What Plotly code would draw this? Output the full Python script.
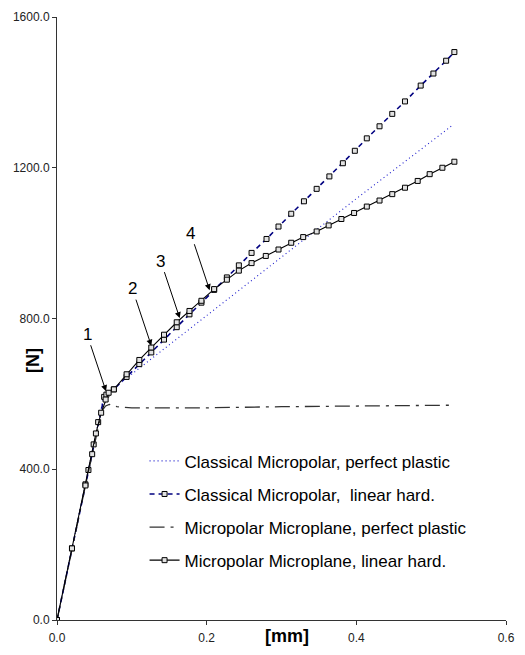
import plotly.graph_objects as go

# ---------------- data ----------------
# Classical Micropolar, perfect plastic
cp_x = [0.0, 0.020, 0.040, 0.063, 0.070, 0.200, 0.300, 0.400, 0.528]
cp_y = [0.0, 190, 380, 598, 606, 808, 963, 1118, 1312]

# Classical Micropolar, linear hard.
cl_x = [0.0, 0.020, 0.038, 0.042, 0.049, 0.055, 0.063, 0.066, 0.076, 0.093, 0.110,
        0.126, 0.143, 0.160, 0.177, 0.193, 0.210, 0.227, 0.243, 0.260, 0.280, 0.296,
        0.313, 0.330, 0.347, 0.364, 0.382, 0.398, 0.414, 0.431, 0.448, 0.465, 0.486,
        0.503, 0.520, 0.531]
cl_y = [0.0, 190, 360, 398, 466, 525, 592, 598, 612, 645, 679,
        710, 744, 777, 811, 842, 876, 909, 941, 974, 1011, 1044,
        1078, 1111, 1144, 1177, 1212, 1245, 1278, 1310, 1343, 1376, 1418,
        1450, 1484, 1507]

# Micropolar Microplane, perfect plastic
mp_x = [0.0, 0.020, 0.040, 0.060, 0.065, 0.070, 0.080, 0.100, 0.200, 0.300, 0.400, 0.531]
mp_y = [0.0, 190, 375, 555, 568, 572, 566, 563, 563, 566, 568, 570]

# Micropolar Microplane, linear hard.
ml_x = [0.0, 0.020, 0.038, 0.047, 0.052, 0.059, 0.065, 0.069, 0.076, 0.093, 0.110,
        0.126, 0.143, 0.160, 0.177, 0.193, 0.210, 0.227, 0.243, 0.260, 0.279, 0.296,
        0.313, 0.329, 0.347, 0.363, 0.380, 0.397, 0.414, 0.431, 0.448, 0.465, 0.482,
        0.498, 0.515, 0.531]
ml_y = [0.0, 190, 357, 440, 495, 550, 585, 603, 612, 652, 690,
        723, 757, 790, 820, 847, 878, 903, 927, 947, 966, 983,
        1001, 1016, 1031, 1047, 1064, 1080, 1097, 1113, 1130, 1147, 1165,
        1183, 1200, 1216]

series_names = [
    "Classical Micropolar, perfect plastic",
    "Classical Micropolar,\u00a0 linear hard.",
    "Micropolar Microplane, perfect plastic",
    "Micropolar Microplane, linear hard.",
]

# numbered arrows: labels and the curve points they point to
arrow_labels = ["1", "2", "3", "4"]
arrow_x = [0.0655, 0.126, 0.164, 0.204]
arrow_y = [607, 728, 801, 875]

x_ticks = [0.0, 0.2, 0.4, 0.6]
y_ticks = [0, 400, 800, 1200, 1600]

FONT = "Liberation Sans, Arial, sans-serif"

fig = go.Figure()

sq = dict(symbol="square", size=5, color="#e2e2e2", line=dict(color="#000000", width=1))

fig.add_trace(go.Scatter(x=cp_x, y=cp_y, mode="lines", name=series_names[0],
                         legendgroup="a",
                         line=dict(color="#1a1acc", width=1.1, dash="1px,3px")))
fig.add_trace(go.Scatter(x=cl_x, y=cl_y, mode="lines+markers", name=series_names[1],
                         legendgroup="b",
                         line=dict(color="#000080", width=1.6, dash="5px,4px"), marker=sq))
fig.add_trace(go.Scatter(x=mp_x, y=mp_y, mode="lines", name=series_names[2],
                         legendgroup="c",
                         line=dict(color="#333333", width=1.3, dash="longdashdot")))
fig.add_trace(go.Scatter(x=ml_x, y=ml_y, mode="lines+markers", name=series_names[3],
                         legendgroup="d",
                         line=dict(color="#000000", width=1.1), marker=sq))

for lab, ax_, ay_ in zip(arrow_labels, arrow_x, arrow_y):
    fig.add_annotation(x=ax_, y=ay_, xref="x", yref="y", text=lab,
                       showarrow=True, arrowhead=2, arrowsize=1.2, arrowwidth=1,
                       arrowcolor="#000000", ax=-19, ay=-57,
                       font=dict(family=FONT, size=17, color="#000000"))

fig.add_annotation(x=0.513, y=-0.006, xref="paper", yref="paper", text="<b>[mm]</b>",
                   showarrow=False, xanchor="center", yanchor="top",
                   font=dict(family=FONT, size=18, color="#000000"))
fig.add_annotation(x=-0.055, y=0.43, xref="paper", yref="paper", text="<b>[N]</b>",
                   showarrow=False, textangle=-90, xanchor="center", yanchor="middle",
                   font=dict(family=FONT, size=18, color="#000000"))

axis_common = dict(showgrid=False, zeroline=False, showline=True, linecolor="#333333",
                   linewidth=1, ticks="outside", ticklen=4, tickcolor="#333333",
                   tickfont=dict(family=FONT, size=12, color="#222222"), tickformat=".1f")

fig.update_xaxes(range=[0, 0.6], tickvals=x_ticks, ticklabelstandoff=3, **axis_common)
fig.update_yaxes(range=[0, 1600], tickvals=y_ticks, **axis_common)

fig.update_layout(
    width=525, height=655,
    margin=dict(l=57, r=10, t=12, b=32),
    paper_bgcolor="white", plot_bgcolor="white",
    showlegend=True,
    legend=dict(x=0.195, y=0.293, xanchor="left", yanchor="top",
                font=dict(family=FONT, size=17, color="#000000"),
                bgcolor="rgba(0,0,0,0)", tracegroupgap=8, itemwidth=30),
    font=dict(family=FONT),
)

# remove the default 8px page margin so the figure fills the window exactly
fig.write_html("out.html",
               config={"displayModeBar": False, "staticPlot": True},
               post_script="document.body.style.margin='0';document.body.style.overflow='hidden';")
